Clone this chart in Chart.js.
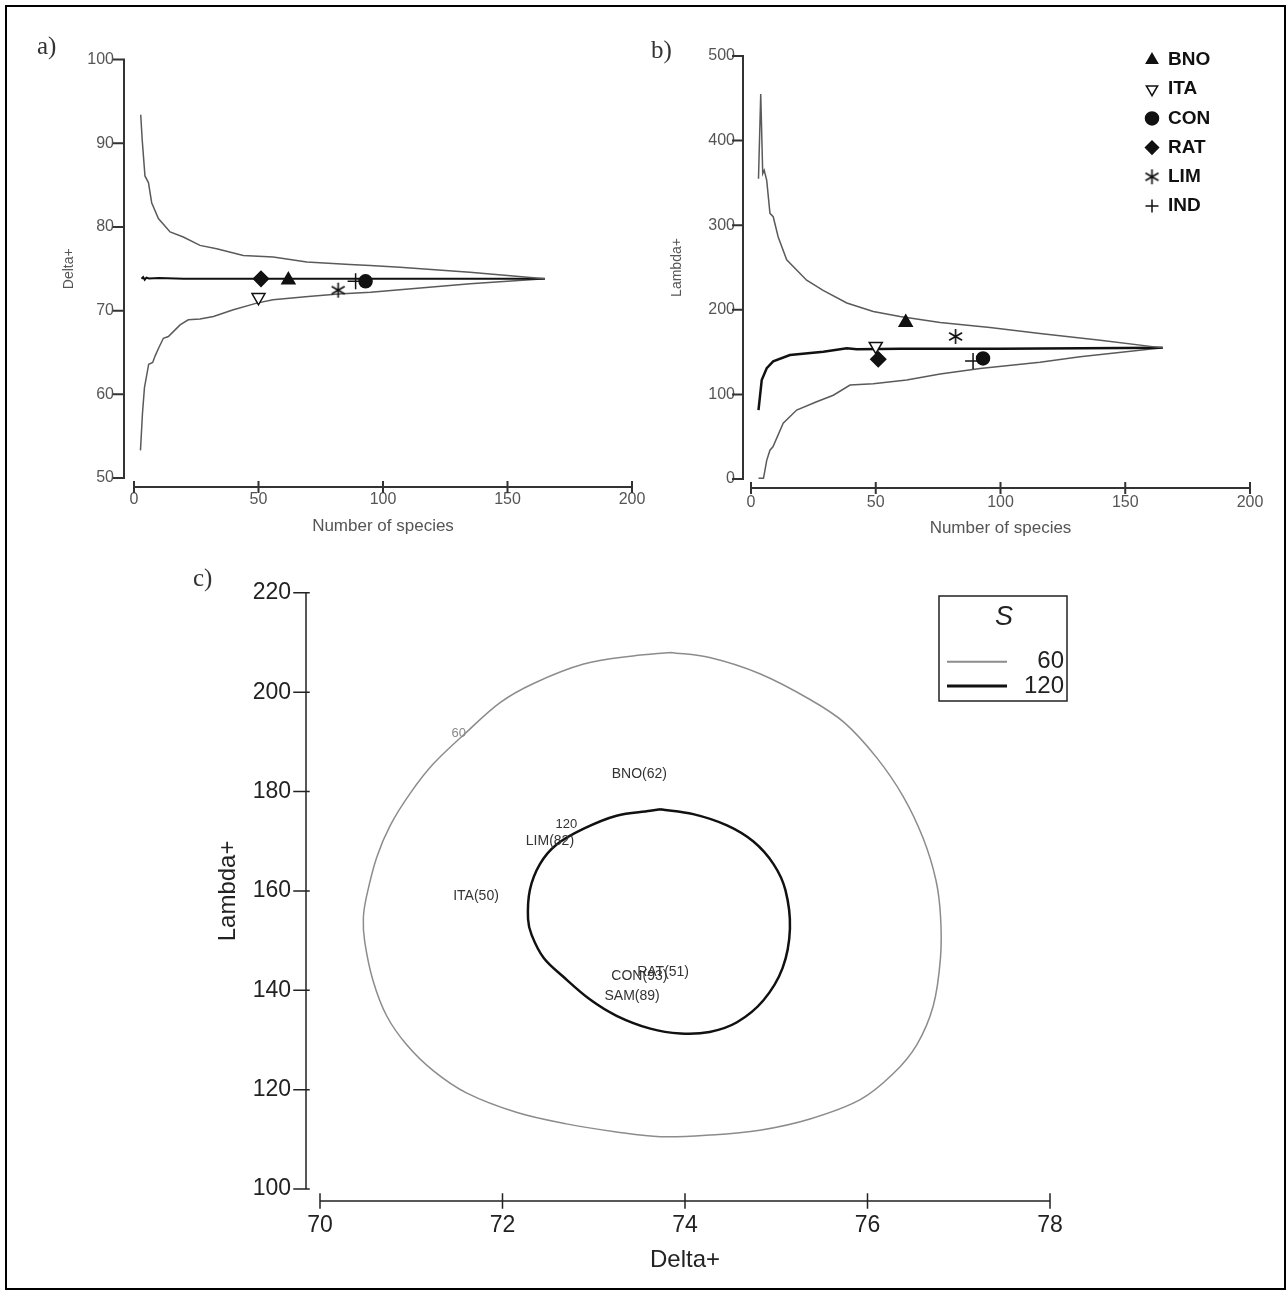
<!DOCTYPE html>
<html>
<head>
<meta charset="utf-8">
<script src="https://cdn.jsdelivr.net/npm/chart.js@4.4.1/dist/chart.umd.min.js"></script>
<style>
  html, body { margin: 0; padding: 0; background: #fff; }
  body { width: 1288px; height: 1292px; position: relative; overflow: hidden; }
  #frame { position: absolute; left: 5px; top: 5px; width: 1281px; height: 1285px; border: 2px solid #000; box-sizing: border-box; }
  canvas { position: absolute; }
  .tag { position: absolute; font-family: 'Liberation Serif', 'DejaVu Serif', serif; font-size: 25px; line-height: 25px; color: #333; }
</style>
</head>
<body>
<div id="frame"></div>
<canvas id="chartA" width="640" height="520" style="left:20px;top:30px"></canvas>
<canvas id="chartB" width="640" height="520" style="left:640px;top:30px"></canvas>
<canvas id="chartC" width="1100" height="730" style="left:180px;top:550px"></canvas>
<div class="tag" style="left:37px;top:33px">a)</div>
<div class="tag" style="left:651px;top:37px">b)</div>
<div class="tag" style="left:193px;top:565px">c)</div>
<script>
// ---- data ----
const siteNames = ['BNO', 'ITA', 'CON', 'RAT', 'LIM', 'IND'];
const siteSpecies = [62, 50, 93, 51, 82, 89];
const siteDelta = [73.65, 71.6, 73.5, 73.8, 72.45, 73.5];
const siteLambda = [185, 157, 142.5, 141.5, 168.5, 139.5];

// a) Delta+ funnel
const aUpperS = [2.7, 3.3, 4.4, 5.8, 7.1, 9.8, 14.5, 19.8, 26.5, 33.2, 43.9, 55.9, 69.4, 86.7, 94.8, 106.8, 134.9, 150, 165];
const aUpper = [93.4, 90.4, 86.1, 85.3, 82.9, 81.0, 79.4, 78.8, 77.8, 77.4, 76.6, 76.4, 75.8, 75.5, 75.4, 75.2, 74.6, 74.2, 73.8];
const aMeanS = [3, 3.7, 4.3, 5, 6, 10, 20, 40, 80, 165];
const aMean = [73.8, 74.0, 73.7, 73.95, 73.85, 73.9, 73.8, 73.8, 73.8, 73.8];
const aLowerS = [2.6, 3.4, 4.2, 5.9, 7.5, 8.5, 10, 11.8, 13.8, 18.5, 21.8, 26.5, 31.9, 39.9, 49.3, 55.8, 70, 82, 95, 115, 135, 150, 165];
const aLower = [53.3, 57.7, 60.8, 63.6, 63.8, 64.6, 65.6, 66.7, 66.9, 68.3, 68.9, 69.0, 69.3, 70.1, 70.9, 71.3, 71.7, 72.0, 72.2, 72.7, 73.2, 73.5, 73.8];

// b) Lambda+ funnel
const bUpperS = [3, 3.9, 4.7, 5.3, 6.3, 7.6, 8.9, 10.9, 14.3, 22.3, 28.9, 38.4, 49, 59.7, 75.8, 95.8, 115.8, 140, 165];
const bUpper = [355, 455, 361, 365, 353, 314, 310, 286, 259, 235, 223, 208, 198, 192, 185, 179, 172, 164, 155];
const bMeanS = [3, 4.3, 6.3, 8.9, 15.6, 29, 38.4, 42.4, 60, 100, 165];
const bMean = [81.5, 117, 131, 139, 146.6, 150.5, 154.5, 153.5, 154, 154, 155];
const bLowerS = [3, 5, 6.3, 7.6, 8.8, 12.9, 18.3, 26.3, 33, 39.7, 49, 62.4, 75.8, 91.8, 115.8, 131.9, 165];
const bLower = [0.8, 0.8, 22, 34, 38, 66, 81.5, 91.3, 99, 111, 112.5, 117, 124, 130.5, 138, 144.6, 155];

// c) probability contours (S = 60 and S = 120)
const cOuterDelta = [73.84, 74.27, 74.82, 75.37, 75.74, 76.10, 76.39, 76.61, 76.75, 76.80, 76.80, 76.72, 76.54, 76.28, 75.92, 75.37, 74.82, 74.27, 73.73,
  73.25, 72.70, 72.16, 71.61, 71.24, 70.95, 70.73, 70.58, 70.49, 70.475, 70.51, 70.62, 70.77, 70.99, 71.24, 71.61, 71.97, 72.34, 72.89, 73.43, 73.84];
const cOuterLambda = [208.0, 206.96, 203.70, 198.52, 193.96, 186.83, 179.04, 170.58, 162.15, 155.0, 146.56, 136.82, 129.03, 123.18, 117.98, 114.09, 111.83, 110.85, 110.52,
  111.49, 113.11, 115.39, 119.29, 123.83, 129.03, 134.87, 142.02, 149.81, 154.5, 158.89, 166.69, 173.19, 179.68, 185.53, 192.01, 197.86, 201.75, 205.65, 207.29, 208.0];
const cInnerDelta = [73.73, 74.09, 74.46, 74.75, 74.97, 75.10, 75.15, 75.07, 74.86, 74.57, 74.27, 73.95, 73.62, 73.25, 72.96, 72.67, 72.45, 72.32, 72.28,
  72.30, 72.41, 72.59, 72.89, 73.25, 73.62, 73.73];
const cInnerLambda = [176.43, 175.45, 173.19, 169.94, 165.40, 160.20, 152.41, 144.5, 138.0, 133.57, 131.62, 131.31, 132.28, 134.87, 138.13, 142.66, 146.56, 151.10, 154.35,
  160.20, 165.40, 169.30, 172.53, 175.14, 176.12, 176.43];
const cSiteText = ['BNO(62)', 'LIM(82)', 'ITA(50)', 'RAT(51)', 'CON(93)', 'SAM(89)'];
const cSiteDelta = [73.50, 72.52, 71.71, 73.76, 73.50, 73.42];
const cSiteLambda = [183.6, 170.1, 158.9, 143.6, 142.9, 138.8];
const cContourText = ['60', '120'];
const cContourDelta = [71.52, 72.70];
const cContourLambda = [191.7, 173.3];

// ---- helpers ----
const pts = (xs, ys) => xs.map((x, i) => ({ x: x, y: ys[i] }));
const SANS = "'Liberation Sans', Arial, sans-serif";
Chart.defaults.font.family = SANS;
Chart.defaults.color = '#555';

function asterisk(size) {
    const c = document.createElement('canvas');
    c.width = c.height = size;
    const g = c.getContext('2d');
    g.strokeStyle = '#111';
    g.lineWidth = 1.6;
    const r = size / 2 - 1;
    g.beginPath();
    for (let k = 0; k < 3; k++) {
        const a = Math.PI / 2 + k * Math.PI / 3;
        g.moveTo(size / 2 + r * Math.cos(a), size / 2 + r * Math.sin(a));
        g.lineTo(size / 2 - r * Math.cos(a), size / 2 - r * Math.sin(a));
    }
    g.stroke();
    return c;
}
const star = asterisk(17);

const markerStyle = {
    BNO: { pointStyle: 'triangle', rotation: 0, fill: '#111', radius: 7.5 },
    ITA: { pointStyle: 'triangle', rotation: 180, fill: '#fff', radius: 7.5 },
    CON: { pointStyle: 'circle', rotation: 0, fill: '#111', radius: 6.5 },
    RAT: { pointStyle: 'rectRot', rotation: 0, fill: '#111', radius: 7.5 },
    LIM: { pointStyle: star, rotation: 0, fill: '#111', radius: 8 },
    IND: { pointStyle: 'cross', rotation: 0, fill: '#111', radius: 8 }
};

function siteDatasets(values) {
    return siteNames.map((name, i) => {
        const s = markerStyle[name];
        return {
            label: name,
            site: true,
            order: 0,
            data: [{ x: siteSpecies[i], y: values[i] }],
            pointStyle: s.pointStyle,
            rotation: s.rotation,
            pointRadius: s.radius,
            backgroundColor: s.fill,
            borderColor: '#111',
            borderWidth: 1.5
        };
    });
}

function curve(xs, ys, color, width) {
    return {
        data: pts(xs, ys),
        showLine: true,
        order: 1,
        borderColor: color,
        borderWidth: width,
        pointRadius: 0,
        tension: 0
    };
}

// Prism-style detached axes, drawn from the chart's own scales
const offsetAxes = {
    id: 'offsetAxes',
    afterDraw(chart, args, o) {
        const { ctx, chartArea, scales: { x, y } } = chart;
        const ax = chartArea.left - o.yGap;
        const ay = chartArea.bottom + o.xGap;
        ctx.save();
        ctx.strokeStyle = o.color;
        ctx.lineWidth = o.width;
        ctx.lineCap = 'square';
        ctx.beginPath();
        ctx.moveTo(ax, y.getPixelForValue(y.min));
        ctx.lineTo(ax, y.getPixelForValue(y.max));
        y.ticks.forEach(t => {
            const p = y.getPixelForValue(t.value);
            ctx.moveTo(ax - o.yTickOut, p);
            ctx.lineTo(ax + o.yTickIn, p);
        });
        ctx.moveTo(x.getPixelForValue(x.min), ay);
        ctx.lineTo(x.getPixelForValue(x.max), ay);
        x.ticks.forEach(t => {
            const p = x.getPixelForValue(t.value);
            ctx.moveTo(p, ay - o.xTickIn);
            ctx.lineTo(p, ay + o.xTickOut);
        });
        ctx.stroke();
        ctx.restore();
    }
};

// marker key for panel b
const siteKey = {
    id: 'siteKey',
    afterDraw(chart, args, o) {
        const ctx = chart.ctx;
        let row = 0;
        chart.data.datasets.forEach(ds => {
            if (!ds.site) return;
            const y = o.y + row * o.rowGap;
            ctx.save();
            ctx.fillStyle = ds.backgroundColor;
            ctx.strokeStyle = ds.borderColor;
            ctx.lineWidth = ds.borderWidth;
            Chart.helpers.drawPoint(ctx, { pointStyle: ds.pointStyle, rotation: ds.rotation, radius: o.radius, borderWidth: ds.borderWidth }, o.x, y);
            ctx.fillStyle = '#111';
            ctx.font = o.font;
            ctx.textAlign = 'left';
            ctx.textBaseline = 'middle';
            ctx.fillText(ds.label, o.x + o.textGap, y);
            ctx.restore();
            row++;
        });
    }
};

// text labels placed at dataset points (panel c)
const pointText = {
    id: 'pointText',
    afterDatasetsDraw(chart) {
        const ctx = chart.ctx;
        chart.data.datasets.forEach((ds, i) => {
            if (!ds.texts) return;
            const meta = chart.getDatasetMeta(i);
            ctx.save();
            ctx.font = ds.textFont;
            ctx.fillStyle = ds.textColor;
            ctx.textAlign = 'center';
            ctx.textBaseline = 'middle';
            meta.data.forEach((el, j) => ctx.fillText(ds.texts[j], el.x, el.y));
            ctx.restore();
        });
    }
};

// S key box for panel c
const contourKey = {
    id: 'contourKey',
    afterDraw(chart, args, o) {
        const ctx = chart.ctx;
        ctx.save();
        ctx.strokeStyle = '#222';
        ctx.lineWidth = 1.5;
        ctx.strokeRect(o.left, o.top, o.width, o.height);
        ctx.fillStyle = '#222';
        ctx.textBaseline = 'middle';
        ctx.textAlign = 'center';
        ctx.font = 'italic 27px ' + SANS;
        ctx.fillText(o.title, o.left + o.width / 2 + 1, o.top + 21);
        ctx.font = '24px ' + SANS;
        ctx.textAlign = 'right';
        chart.data.datasets.filter(d => d.contour).forEach((ds, i) => {
            const y = o.top + o.firstRow + i * o.rowGap;
            ctx.strokeStyle = ds.borderColor;
            ctx.lineWidth = ds.borderWidth + 0.5;
            ctx.beginPath();
            ctx.moveTo(o.left + 8, y);
            ctx.lineTo(o.left + 68, y);
            ctx.stroke();
            ctx.fillText(ds.label, o.left + o.width - 3, y);
        });
        ctx.restore();
    }
};

function fixedWidth(w) { return scale => { scale.width = w; }; }
function fixedHeight(h) { return scale => { scale.height = h; }; }

function funnelOptions(cfg) {
    return {
        responsive: false,
        animation: false,
        layout: { padding: { left: 0, top: 26, right: cfg.right, bottom: 0 } },
        plugins: {
            legend: { display: false },
            tooltip: { enabled: false },
            offsetAxes: { yGap: cfg.yGap, xGap: cfg.xGap, yTickOut: 10, yTickIn: 0, xTickOut: 5, xTickIn: 5, color: '#333', width: 2 },
            siteKey: cfg.key || {}
        },
        scales: {
            x: {
                type: 'linear', min: 0, max: 200,
                afterFit: fixedHeight(cfg.xHeight),
                grid: { display: false, drawTicks: false },
                border: { display: false },
                ticks: { stepSize: 50, autoSkip: false, maxRotation: 0, padding: cfg.xPad, color: '#555', font: { size: 16 } },
                title: { display: true, text: 'Number of species', color: '#555', font: { size: 17 }, padding: { top: 0, bottom: cfg.xTitlePad } }
            },
            y: {
                type: 'linear', min: cfg.yMin, max: cfg.yMax,
                afterFit: fixedWidth(cfg.yWidth),
                grid: { display: false, drawTicks: false },
                border: { display: false },
                ticks: { stepSize: cfg.yStep, padding: cfg.yPad, color: '#555', font: { size: 16 } },
                title: { display: true, text: cfg.yTitle, color: '#555', font: { size: 14 }, padding: { top: cfg.yTitlePad, bottom: 0 } }
            }
        }
    };
}

// ---- a) ----
new Chart(document.getElementById('chartA'), {
    type: 'scatter',
    data: {
        datasets: siteDatasets(siteDelta).concat([
            curve(aUpperS, aUpper, '#5a5a5a', 1.5),
            curve(aMeanS, aMean, '#111', 2),
            curve(aLowerS, aLower, '#5a5a5a', 1.5)
        ])
    },
    options: funnelOptions({
        right: 28, yMin: 50, yMax: 100, yStep: 10, yWidth: 114, xHeight: 72,
        yGap: 10, xGap: 9, xPad: 12, yPad: 20, xTitlePad: 13, yTitlePad: 40.6, yTitle: 'Delta+'
    }),
    plugins: [offsetAxes]
});

// ---- b) ----
new Chart(document.getElementById('chartB'), {
    type: 'scatter',
    data: {
        datasets: siteDatasets(siteLambda).concat([
            curve(bUpperS, bUpper, '#5a5a5a', 1.5),
            curve(bMeanS, bMean, '#111', 2.5),
            curve(bLowerS, bLower, '#5a5a5a', 1.5)
        ])
    },
    options: funnelOptions({
        right: 30, yMin: 0, yMax: 500, yStep: 100, yWidth: 111, xHeight: 71,
        yGap: 8, xGap: 9, xPad: 14, yPad: 16, xTitlePad: 11, yTitlePad: 28.6, yTitle: 'Lambda+',
        key: { x: 512, y: 30, rowGap: 29.2, radius: 6.5, textGap: 16, font: 'bold 19px ' + SANS }
    }),
    plugins: [offsetAxes, siteKey]
});

// ---- c) ----
new Chart(document.getElementById('chartC'), {
    type: 'scatter',
    data: {
        datasets: [
            {
                label: '60', contour: true,
                data: pts(cOuterDelta, cOuterLambda),
                showLine: true, tension: 0.35, pointRadius: 0,
                borderColor: '#8c8c8c', borderWidth: 1.5
            },
            {
                label: '120', contour: true,
                data: pts(cInnerDelta, cInnerLambda),
                showLine: true, tension: 0.35, pointRadius: 0,
                borderColor: '#111', borderWidth: 2.5
            },
            {
                data: pts(cSiteDelta, cSiteLambda),
                pointRadius: 0,
                texts: cSiteText, textFont: '14px ' + SANS, textColor: '#333'
            },
            {
                data: [pts(cContourDelta, cContourLambda)[0]],
                pointRadius: 0,
                texts: [cContourText[0]], textFont: '13px ' + SANS, textColor: '#888'
            },
            {
                data: [pts(cContourDelta, cContourLambda)[1]],
                pointRadius: 0,
                texts: [cContourText[1]], textFont: '13px ' + SANS, textColor: '#333'
            }
        ]
    },
    options: {
        responsive: false,
        animation: false,
        layout: { padding: { left: 0, top: 23, right: 230, bottom: 0 } },
        plugins: {
            legend: { display: false },
            tooltip: { enabled: false },
            offsetAxes: { yGap: 14, xGap: 12, yTickOut: 12, yTickIn: 3, xTickOut: 7, xTickIn: 7, color: '#222', width: 1.5 },
            contourKey: { left: 759, top: 46, width: 128, height: 105, firstRow: 65.7, rowGap: 24.3, title: 'S' }
        },
        scales: {
            x: {
                type: 'linear', min: 70, max: 78,
                afterFit: fixedHeight(91),
                grid: { display: false, drawTicks: false },
                border: { display: false },
                ticks: { stepSize: 2, autoSkip: false, maxRotation: 0, padding: 23, color: '#222', font: { size: 23 } },
                title: { display: true, text: 'Delta+', color: '#222', font: { size: 24 }, padding: { top: 0, bottom: 5.6 } }
            },
            y: {
                type: 'linear', min: 100, max: 220,
                afterFit: fixedWidth(140),
                grid: { display: false, drawTicks: false },
                border: { display: false },
                ticks: { stepSize: 20, padding: 29, color: '#222', font: { size: 23 } },
                title: { display: true, text: 'Lambda+', color: '#222', font: { size: 24 }, padding: { top: 34.3, bottom: 0 } }
            }
        }
    },
    plugins: [offsetAxes, pointText, contourKey]
});
</script>
</body>
</html>
